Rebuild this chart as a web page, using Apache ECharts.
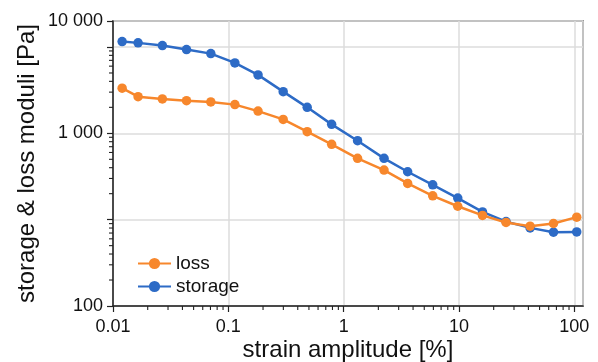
<!DOCTYPE html>
<html>
<head>
<meta charset="utf-8">
<script src="https://cdn.jsdelivr.net/npm/echarts@6/dist/echarts.min.js"></script>
<style>
html,body{margin:0;padding:0;background:#fff;}
#chart{width:598px;height:362px;}
</style>
</head>
<body>
<div id="chart"></div>
<script>
// strain amplitude [%]
const strain = [0.012, 0.0165, 0.0268, 0.0434, 0.0705, 0.114, 0.181, 0.299, 0.483, 0.787,
                1.32, 2.24, 3.59, 5.92, 9.76, 16.0, 25.6, 41.4, 66.0, 105];
// storage modulus [Pa]
const storage = [11550, 11160, 10380, 9330, 8380, 6540, 4750, 3040, 2000, 1270,
                 821, 513, 359, 253, 178, 123, 95, 80.3, 71.6, 72.2];
// loss modulus [Pa]
const loss = [3330, 2660, 2500, 2390, 2310, 2150, 1810, 1450, 1044, 746,
              513, 375, 263, 189, 143, 112, 92.8, 84.1, 90.3, 107];

const xRange = [0.01, 119];
const yRange = [10, 20000];
const xTickValues = [0.01, 0.1, 1, 10, 100];
const xTickLabels = ['0.01', '0.1', '1', '10', '100'];
const yTickValues = [10, 1000, 20000];
const yTickLabels = ['100', '1 000', '10 000'];
const xDecades = [0.01, 0.1, 1, 10];
const yDecades = [10, 100, 1000, 10000];
const minorSteps = [2, 3, 4, 5, 6, 7, 8, 9];

const orange = '#f7872c';
const blue = '#2d6bc6';
const ink = '#111';

function labelFor(values, labels, v) {
  for (let i = 0; i < values.length; i++) {
    if (Math.abs(Math.log10(v) - Math.log10(values[i])) < 0.01) return labels[i];
  }
  return '';
}

// minor tick positions (axis decoration)
const minorTicks = [];
xDecades.forEach(d => minorSteps.forEach(m => { const v = d * m; if (v < xRange[1]) minorTicks.push([v, yRange[0], 'x']); }));
yDecades.forEach(d => minorSteps.forEach(m => { const v = d * m; if (v < yRange[1]) minorTicks.push([xRange[0], v, 'y']); }));

const chart = echarts.init(document.getElementById('chart'), null, {renderer: 'canvas'});
const font = 'Liberation Sans, Arial, sans-serif';

chart.setOption({
  animation: false,
  textStyle: {fontFamily: font},
  grid: {left: 113, right: 15, top: 21, bottom: 56, show: true, borderColor: '#4a4a4a', borderWidth: 1.5,
         containLabel: false, outerBoundsMode: 'none'},
  legend: {
    data: ['loss', 'storage'],
    orient: 'vertical',
    left: 137, top: 254, padding: 0,
    itemWidth: 33, itemHeight: 14, itemGap: 4,
    textStyle: {fontSize: 19, color: ink, fontFamily: font}
  },
  xAxis: {
    type: 'log', logBase: 10, min: xRange[0], max: xRange[1],
    name: 'strain amplitude [%]', nameLocation: 'middle', nameGap: 32, nameMoveOverlap: false,
    nameTextStyle: {fontSize: 24, color: ink, fontFamily: font},
    axisLine: {show: true, lineStyle: {color: '#222', width: 1.5}},
    axisTick: {show: true, length: 6, lineStyle: {color: '#222', width: 1.2}},
    axisLabel: {fontSize: 18, color: ink, margin: 12, fontFamily: font,
      showMaxLabel: false,
      formatter: v => labelFor(xTickValues, xTickLabels, v)},
    splitLine: {show: true, lineStyle: {color: '#dcdcdc', width: 1.5}}
  },
  yAxis: {
    type: 'log', logBase: 10, min: yRange[0], max: yRange[1],
    name: 'storage & loss moduli [Pa]', nameLocation: 'middle', nameGap: 74, nameMoveOverlap: false,
    nameTextStyle: {fontSize: 24, color: ink, fontFamily: font},
    axisLine: {show: true, lineStyle: {color: '#222', width: 1.5}},
    axisTick: {show: true, length: 6, lineStyle: {color: '#222', width: 1.2}},
    axisLabel: {fontSize: 18, color: ink, margin: 10, fontFamily: font,
      showMaxLabel: true, showMinLabel: true,
      formatter: v => labelFor(yTickValues, yTickLabels, v)},
    splitLine: {show: true, lineStyle: {color: '#dcdcdc', width: 1.5}}
  },
  series: [
    {
      type: 'custom', name: 'minorTicks', silent: true, clip: false, z: 1,
      data: minorTicks,
      renderItem: function (params, api) {
        const p = api.coord([api.value(0), api.value(1)]);
        const isX = minorTicks[params.dataIndex][2] === 'x';
        const shape = isX ? {x1: p[0], y1: p[1], x2: p[0], y2: p[1] + 4}
                          : {x1: p[0], y1: p[1], x2: p[0] - 4, y2: p[1]};
        return {type: 'line', shape: shape, style: {stroke: '#222', lineWidth: 1.1}};
      }
    },
    {
      name: 'storage', type: 'line', data: strain.map((s, i) => [s, storage[i]]),
      symbol: 'circle', symbolSize: 9.5, showSymbol: true,
      itemStyle: {color: blue}, lineStyle: {color: blue, width: 2.5}, z: 3
    },
    {
      name: 'loss', type: 'line', data: strain.map((s, i) => [s, loss[i]]),
      symbol: 'circle', symbolSize: 9.5, showSymbol: true,
      itemStyle: {color: orange}, lineStyle: {color: orange, width: 2.5}, z: 4
    }
  ]
});
</script>
</body>
</html>
